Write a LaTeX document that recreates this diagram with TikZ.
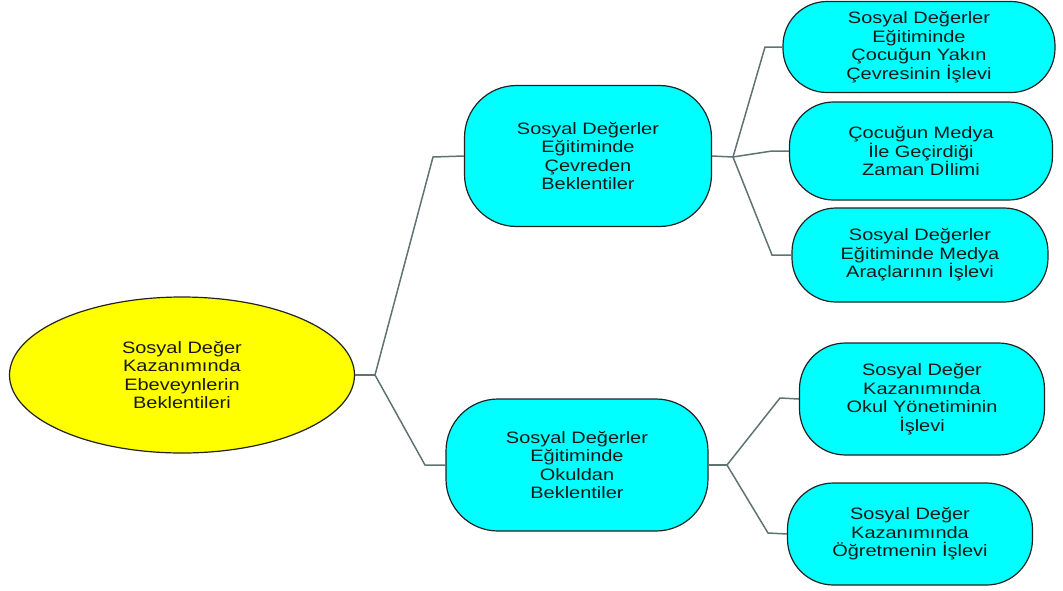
\documentclass[tikz,border=0pt]{standalone}
\usepackage{fontspec}
\setmainfont[FakeStretch=1.21]{Liberation Sans}
\usetikzlibrary{shapes.geometric}
\definecolor{boxcyan}{RGB}{0,255,255}
\definecolor{ellyellow}{RGB}{255,255,0}
\definecolor{linkgray}{RGB}{95,115,115}
\definecolor{edgedark}{RGB}{35,35,35}
\begin{document}
\begin{tikzpicture}[x=1pt,y=-1pt,
  every node/.style={font=\fontsize{16.5}{18.6}\selectfont, align=center, inner sep=0pt, text=black!90},
  topic/.style={draw=edgedark, line width=1.2pt, fill=boxcyan, rounded corners=#1},
  topic/.default=44pt,
  rootnode/.style={draw=edgedark, line width=1.2pt, fill=ellyellow, ellipse},
  link/.style={draw=linkgray, line width=1.5pt, line join=miter}
]
\useasboundingbox (0,0) rectangle (1063,590);
% root
\node[rootnode, minimum width=345pt, minimum height=156pt] (root) at (182,375)
  {Sosyal Değer\\Kazanımında\\Ebeveynlerin\\Beklentileri};
% level 1
\node[topic=52pt, minimum width=247pt, minimum height=141pt] (cev) at (588,156)
  {Sosyal Değerler\\Eğitiminde\\Çevreden\\Beklentiler};
\node[topic=52pt, minimum width=262pt, minimum height=132pt] (okul) at (577,465)
  {Sosyal Değerler\\Eğitiminde\\Okuldan\\Beklentiler};
% level 2
\node[topic=44pt, minimum width=272pt, minimum height=91pt] (ya) at (919,47)
  {Sosyal Değerler\\Eğitiminde\\Çocuğun Yakın\\Çevresinin İşlevi};
\node[topic=44pt, minimum width=263pt, minimum height=98pt] (zd) at (921,151)
  {Çocuğun Medya\\İle Geçirdiği\\Zaman Dİlimi};
\node[topic=44pt, minimum width=256pt, minimum height=94pt] (ma) at (920,255)
  {Sosyal Değerler\\Eğitiminde Medya\\Araçlarının İşlevi};
\node[topic=46pt, minimum width=245pt, minimum height=112pt] (oy) at (922,399)
  {Sosyal Değer\\Kazanımında\\Okul Yönetiminin\\İşlevi};
\node[topic=46pt, minimum width=245pt, minimum height=102pt] (oi) at (910,534)
  {Sosyal Değer\\Kazanımında\\Öğretmenin İşlevi};
% junction coordinates
\coordinate (j0) at (375,375);
\coordinate (j0u) at (433,157);
\coordinate (j0d) at (425,465);
\coordinate (j1) at (733,157);
\coordinate (j1a) at (765,47);
\coordinate (j1b) at (772,151);
\coordinate (j1c) at (772,255);
\coordinate (j2) at (727,465);
\coordinate (j2a) at (780,398);
\coordinate (j2b) at (768,533);
% connectors
\draw[link] (root.east) -- (j0);
\draw[link] (j0) -- (j0u) -- (cev.west);
\draw[link] (j0) -- (j0d) -- (okul.west);
\draw[link] (cev.east) -- (j1);
\draw[link] (j1) -- (j1a) -- (ya.west);
\draw[link] (j1) -- (j1b) -- (zd.west);
\draw[link] (j1) -- (j1c) -- (ma.west);
\draw[link] (okul.east) -- (j2);
\draw[link] (j2) -- (j2a) -- (oy.west);
\draw[link] (j2) -- (j2b) -- (oi.west);
\end{tikzpicture}
\end{document}
